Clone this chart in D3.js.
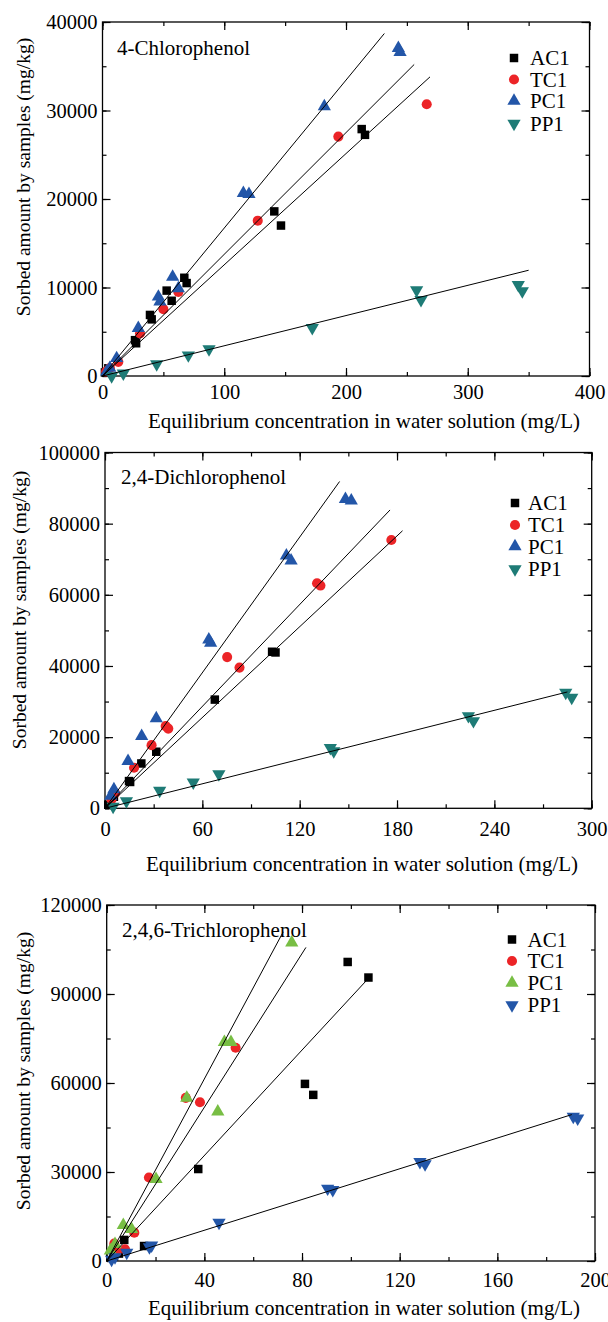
<!DOCTYPE html>
<html lang="en">
<head>
<meta charset="utf-8">
<title>Sorption of chlorophenols</title>
<script src="https://cdnjs.cloudflare.com/ajax/libs/d3/7.8.5/d3.min.js"></script>
<style>
    body { margin: 0; background: #fff; }
    .tick line { stroke: #000; stroke-width: 1.2; }
</style>
</head>
<body>
<svg id="chart" width="608" height="1322"></svg>
<script>
// ---- data ----
const seriesNames = ["AC1", "TC1", "PC1", "PP1"];
const panelTitles = ["4-Chlorophenol", "2,4-Dichlorophenol", "2,4,6-Trichlorophenol"];
const xTitle = "Equilibrium concentration in water solution (mg/L)";
const yTitle = "Sorbed amount by samples (mg/kg)";

// 4-Chlorophenol  [Ce (mg/L), q (mg/kg)]
const cp4_AC1 = [[2, 400], [4.8, 870], [26.7, 4050], [27.6, 3700], [39, 6900], [40.4, 6400], [52.7, 9650], [56.8, 8500],
                 [67.2, 11100], [69.1, 10500], [141.1, 18600], [146.6, 17000], [212.9, 27900], [215.6, 27250]];
const cp4_TC1 = [[3, 500], [6.1, 900], [13, 1600], [30.8, 4800], [50, 7550], [62.3, 9500], [127.5, 17550],
                 [193.7, 27050], [266.3, 30700]];
const cp4_PC1 = [[3.5, 500], [6, 900], [11.6, 2000], [29.4, 5400], [45.9, 8950], [47.2, 8400], [57.6, 11200],
                 [62.3, 9900], [115.7, 20650], [120.3, 20550], [182.2, 30450], [243, 37050], [244.4, 36600]];
const cp4_PP1 = [[7.5, 0], [17.1, 300], [44.5, 1350], [70.5, 2350], [87.5, 3050], [172.3, 5450], [258, 9700],
                 [261.6, 8600], [341.5, 10300], [344.8, 9600]];
const cp4_fitEnd = [[269, 33800], [256, 35200], [231.5, 38700], [350, 11950]];

// 2,4-Dichlorophenol
const dcp_AC1 = [[2, 1000], [5.5, 3250], [14.8, 7650], [15.5, 7400], [22.4, 12600], [31.6, 15900], [67.7, 30550],
                 [103, 44000], [105.1, 43800]];
const dcp_TC1 = [[4, 2500], [6.2, 4300], [17.9, 11400], [28.7, 17750], [37.4, 23100], [39, 22400], [75.3, 42500],
                 [82.9, 39550], [130.7, 63250], [132.8, 62600], [176.5, 75400]];
const dcp_PC1 = [[3.5, 3500], [5.5, 5300], [14.2, 13250], [22.6, 20300], [31.6, 25250], [64, 47400], [65.1, 46450],
                 [111.8, 71000], [114.7, 69600], [148.2, 86900], [151.8, 86450]];
const dcp_PP1 = [[5, 500], [13.2, 2050], [33.7, 4950], [54.4, 7300], [70.2, 9600], [138.9, 17000], [141, 16050],
                 [224, 25950], [227.1, 24550], [284, 32500], [287.7, 31100]];
const dcp_fitEnd = [[183.4, 78000], [175.7, 83850], [144.6, 91850], [285, 32700]];

// 2,4,6-Trichlorophenol
const tcp_AC1 = [[3, 1500], [5, 2500], [7.2, 7100], [15.3, 5050], [37.5, 31000], [81.2, 59700], [84.6, 56000],
                 [98.7, 100800], [107.2, 95550]];
const tcp_TC1 = [[3.1, 5850], [4, 3000], [7.5, 3950], [11.3, 9550], [17.3, 28150], [32.4, 55000], [38.2, 53500],
                 [52.8, 71900]];
const tcp_PC1 = [[1.5, 3500], [3.4, 5650], [6.8, 12050], [10.2, 10700], [20.2, 27600], [32.8, 55000], [45.5, 50350],
                 [48.2, 73800], [50.9, 73800], [75.8, 107300]];
const tcp_PP1 = [[2, 500], [3.4, 1350], [8.2, 2800], [17.5, 4700], [18.4, 5300], [46, 12950], [90.5, 24450],
                 [92.6, 24000], [128.3, 33450], [130.4, 32700], [191.1, 48650], [192.9, 48100]];
const tcp_fitEnd = [[106.5, 94650], [81.6, 105700], [72.3, 110950], [190.5, 49350]];

const xTicks = [[0, 100, 200, 300, 400], [0, 60, 120, 180, 240, 300], [0, 40, 80, 120, 160, 200]];
const yTicks = [[0, 10000, 20000, 30000, 40000], [0, 20000, 40000, 60000, 80000, 100000],
                [0, 30000, 60000, 90000, 120000]];

// ---- layout / style ----
const FONT = "'Liberation Serif', 'Times New Roman', Times, serif";
const colorsA = ["#000000", "#ec2427", "#2356a8", "#1e7b76"];
const colorsB = ["#000000", "#ec2427", "#78be44", "#2356a8"];
const symbols = [d3.symbolSquare, d3.symbolCircle, d3.symbolTriangle, d3.symbolTriangle];
const symSize = [72, 80, 76, 76];

const panels = [
    {left: 102.5, right: 589.5, top: 22, bottom: 376, xMax: 400, yMax: 40000, xMinor: 50, yMinor: 5000,
     series: [cp4_AC1, cp4_TC1, cp4_PC1, cp4_PP1], fit: cp4_fitEnd, colors: colorsA,
     titleX: 117, titleY: 55, legX: 514, legTx: 530, legY: [58, 79.5, 101, 123.5],
     labPad: 8, xTitleX: 364, xTitleDy: 52, yTitleX: 23, yTitleY: 177},
    {left: 105, right: 591.7, top: 452.5, bottom: 808.3, xMax: 300, yMax: 100000, xMinor: 30, yMinor: 10000,
     series: [dcp_AC1, dcp_TC1, dcp_PC1, dcp_PP1], fit: dcp_fitEnd, colors: colorsA,
     titleX: 121, titleY: 484, legX: 515, legTx: 528, legY: [503, 525, 546.5, 569],
     labPad: 13, xTitleX: 362, xTitleDy: 63, yTitleX: 19, yTitleY: 610},
    {left: 106.7, right: 595, top: 905, bottom: 1261, xMax: 200, yMax: 120000, xMinor: 20, yMinor: 15000,
     series: [tcp_AC1, tcp_TC1, tcp_PC1, tcp_PP1], fit: tcp_fitEnd, colors: colorsB,
     titleX: 122, titleY: 936.5, legX: 512, legTx: 527.5, legY: [939.5, 961, 983, 1005],
     labPad: 11, xTitleX: 364, xTitleDy: 54, yTitleX: 23, yTitleY: 1071}
];

const svg = d3.select("#chart");
svg.append("rect").attr("width", 608).attr("height", 1322).attr("fill", "#fff");

function styleLabels(a) {
    a.select(".domain").remove();
    a.attr("font-family", FONT).attr("font-size", 20.5);
    a.selectAll("text").attr("font-family", FONT).attr("font-size", 20.5).attr("fill", "#000");
}

panels.forEach(function(p, i) {
    const x = d3.scaleLinear().domain([0, p.xMax]).range([p.left, p.right]);
    const y = d3.scaleLinear().domain([0, p.yMax]).range([p.bottom, p.top]);
    const g = svg.append("g").attr("font-family", FONT);

    const minorX = d3.range(0, p.xMax + 1e-9, p.xMinor);
    const minorY = d3.range(0, p.yMax + 1e-9, p.yMinor);

    // major ticks, inward, with labels on bottom / left
    g.append("g").attr("transform", "translate(0," + p.bottom + ")")
        .call(d3.axisBottom(x).tickValues(xTicks[i]).tickFormat(d3.format("d"))
            .tickSizeInner(-8).tickSizeOuter(0).tickPadding(p.labPad))
        .call(styleLabels);
    g.append("g").attr("transform", "translate(" + p.left + ",0)")
        .call(d3.axisLeft(y).tickValues(yTicks[i]).tickFormat(d3.format("d"))
            .tickSizeInner(-8).tickSizeOuter(0).tickPadding(5))
        .call(styleLabels);
    // top and right major ticks
    g.append("g").attr("transform", "translate(0," + p.top + ")")
        .call(d3.axisTop(x).tickValues(xTicks[i]).tickSizeInner(-8).tickSizeOuter(0).tickFormat(""))
        .call(a => a.select(".domain").remove());
    g.append("g").attr("transform", "translate(" + p.right + ",0)")
        .call(d3.axisRight(y).tickValues(yTicks[i]).tickSizeInner(-8).tickSizeOuter(0).tickFormat(""))
        .call(a => a.select(".domain").remove());
    // minor ticks on all four sides
    [[d3.axisBottom(x), "translate(0," + p.bottom + ")", minorX],
     [d3.axisTop(x), "translate(0," + p.top + ")", minorX],
     [d3.axisLeft(y), "translate(" + p.left + ",0)", minorY],
     [d3.axisRight(y), "translate(" + p.right + ",0)", minorY]].forEach(function(d) {
        g.append("g").attr("transform", d[1])
            .call(d[0].tickValues(d[2]).tickSizeInner(-4).tickSizeOuter(0).tickFormat(""))
            .call(a => a.select(".domain").remove());
    });

    // frame
    g.append("rect")
        .attr("x", p.left).attr("y", p.top)
        .attr("width", p.right - p.left).attr("height", p.bottom - p.top)
        .attr("fill", "none").attr("stroke", "#000").attr("stroke-width", 1.3);

    // points
    p.series.forEach(function(data, s) {
        const sym = d3.symbol().type(symbols[s]).size(symSize[s]);
        g.selectAll(null)
            .data(data)
            .enter().append("path")
            .attr("d", sym)
            .attr("fill", p.colors[s])
            .attr("transform", d => "translate(" + x(d[0]) + "," + y(d[1]) + ")" + (s === 3 ? " rotate(180)" : ""));
    });

    // linear fits through the origin
    g.selectAll(null)
        .data(p.fit)
        .enter().append("line")
        .attr("x1", x(0)).attr("y1", y(0))
        .attr("x2", d => x(d[0])).attr("y2", d => y(d[1]))
        .attr("stroke", "#000").attr("stroke-width", 1);

    // panel title
    g.append("text").attr("x", p.titleX).attr("y", p.titleY)
        .attr("font-family", FONT).attr("font-size", 21).text(panelTitles[i]);

    // legend
    seriesNames.forEach(function(name, s) {
        const sym = d3.symbol().type(symbols[s]).size(symSize[s]);
        g.append("path").attr("d", sym).attr("fill", p.colors[s])
            .attr("transform", "translate(" + p.legX + "," + p.legY[s] + ")" + (s === 3 ? " rotate(180)" : ""));
        g.append("text").attr("x", p.legTx).attr("y", p.legY[s]).attr("dy", "0.35em")
            .attr("font-family", FONT).attr("font-size", 21).text(name);
    });

    // axis titles
    g.append("text")
        .attr("x", p.xTitleX).attr("y", p.bottom + p.xTitleDy)
        .attr("text-anchor", "middle").attr("font-family", FONT).attr("font-size", 21)
        .text(xTitle);
    g.append("text")
        .attr("transform", "translate(" + p.yTitleX + "," + p.yTitleY + ") rotate(-90)")
        .attr("text-anchor", "middle").attr("dy", "0.35em").attr("font-family", FONT).attr("font-size", 19.5)
        .text(yTitle);
});
</script>
</body>
</html>
